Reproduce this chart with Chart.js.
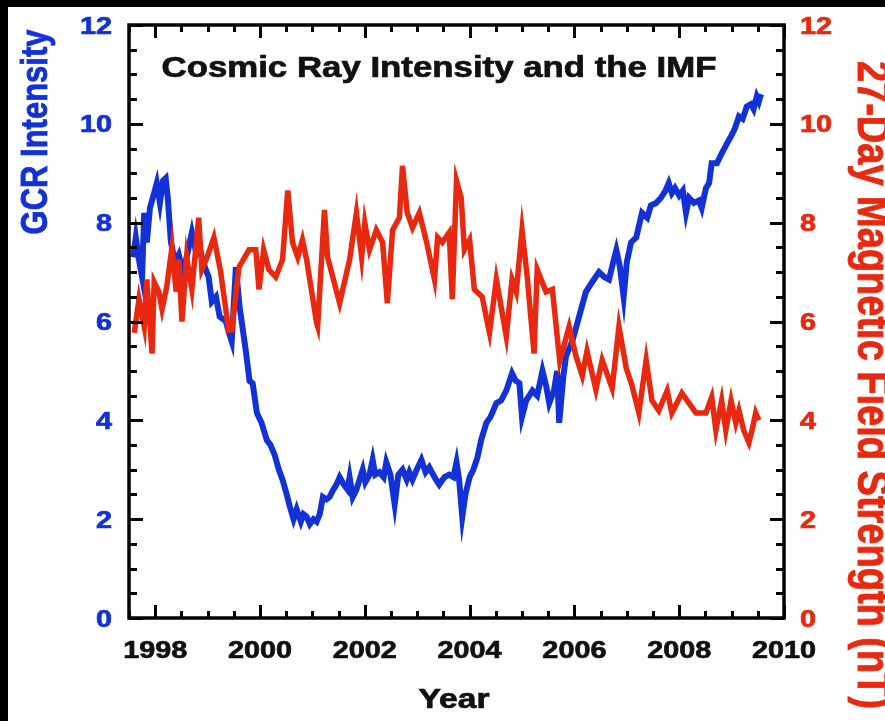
<!DOCTYPE html>
<html>
<head>
<meta charset="utf-8">
<title>Cosmic Ray Intensity and the IMF</title>
<script src="https://cdn.jsdelivr.net/npm/chart.js@4.4.1/dist/chart.umd.min.js"></script>
<style>
  html, body { margin: 0; padding: 0; background: #000; }
  #wrap { position: relative; width: 885px; height: 721px; }
</style>
</head>
<body>
<div id="wrap"><canvas id="cosmicChart" width="885" height="721"></canvas></div>
<script>
// galactic cosmic ray intensity (left axis)
const gcrYears = [
  1997.58, 1997.63, 1997.69, 1997.75, 1997.79, 1997.84, 1997.90, 1997.98, 1998.03, 1998.09,
  1998.15, 1998.20, 1998.24, 1998.30, 1998.38, 1998.45, 1998.53, 1998.60, 1998.70, 1998.78,
  1998.83, 1998.91, 1999.02, 1999.08, 1999.16, 1999.23, 1999.35, 1999.40, 1999.46, 1999.54,
  1999.61, 1999.73, 1999.80, 1999.86, 1999.94, 2000.03, 2000.13, 2000.20, 2000.28, 2000.36,
  2000.43, 2000.51, 2000.57, 2000.64, 2000.70, 2000.78, 2000.83, 2000.89, 2000.95, 2001.02,
  2001.08, 2001.14, 2001.20, 2001.27, 2001.33, 2001.40, 2001.46, 2001.52, 2001.60, 2001.67,
  2001.71, 2001.77, 2001.84, 2001.90, 2001.96, 2002.01, 2002.09, 2002.15, 2002.20, 2002.28,
  2002.36, 2002.41, 2002.49, 2002.57, 2002.64, 2002.72, 2002.80, 2002.85, 2002.91, 2002.99,
  2003.08, 2003.16, 2003.23, 2003.33, 2003.42, 2003.52, 2003.61, 2003.69, 2003.75, 2003.80,
  2003.86, 2003.92, 2004.00, 2004.07, 2004.15, 2004.22, 2004.32, 2004.40, 2004.51, 2004.60,
  2004.70, 2004.81, 2004.88, 2004.95, 2005.00, 2005.08, 2005.20, 2005.29, 2005.39, 2005.46,
  2005.52, 2005.61, 2005.67, 2005.71, 2005.79, 2005.84, 2005.96, 2006.09, 2006.22, 2006.34,
  2006.47, 2006.57, 2006.66, 2006.74, 2006.80, 2006.87, 2006.94, 2007.00, 2007.08, 2007.18,
  2007.29, 2007.39, 2007.46, 2007.56, 2007.65, 2007.74, 2007.80, 2007.86, 2007.92, 2008.00,
  2008.07, 2008.13, 2008.19, 2008.28, 2008.38, 2008.43, 2008.51, 2008.57, 2008.62, 2008.72,
  2008.81, 2008.91, 2008.99, 2009.06, 2009.14, 2009.21, 2009.29, 2009.37, 2009.42, 2009.48,
  2009.52, 2009.56
]
const gcrValues = [
  7.3, 7.7, 7.25, 6.9, 8.2, 7.6, 8.3, 8.6, 8.8, 8.4,
  8.85, 8.9, 8.5, 7.6, 7.2, 7.35, 7.0, 7.3, 7.8, 7.4,
  7.6, 7.2, 6.9, 6.4, 6.5, 6.1, 6.0, 5.8, 5.6, 7.1,
  6.3, 5.4, 4.8, 4.75, 4.15, 3.95, 3.6, 3.5, 3.3, 3.0,
  2.8, 2.5, 2.25, 2.0, 2.2, 1.95, 2.1, 2.05, 1.9, 2.0,
  1.95, 2.1, 2.45, 2.4, 2.45, 2.6, 2.7, 2.85, 2.7, 2.6,
  2.85, 2.45, 2.6, 2.8, 3.0, 2.75, 2.9, 3.2, 2.9, 2.95,
  2.85, 3.15, 2.9, 2.3, 2.9, 3.0, 2.8, 2.95, 2.8, 3.0,
  3.2, 2.95, 3.05, 2.85, 2.7, 2.85, 2.9, 2.85, 3.15, 2.8,
  2.05, 2.5, 2.85, 3.0, 3.25, 3.6, 3.95, 4.07, 4.35, 4.4,
  4.6, 4.95, 4.8, 4.75, 4.07, 4.4, 4.6, 4.5, 5.0, 4.7,
  4.35, 4.6, 5.0, 3.95, 4.9, 5.3, 5.6, 6.1, 6.6, 6.8,
  7.0, 6.9, 6.85, 7.2, 7.45, 7.1, 6.5, 7.2, 7.6, 7.7,
  8.2, 8.1, 8.35, 8.4, 8.5, 8.65, 8.8, 8.6, 8.7, 8.55,
  8.65, 8.2, 8.5, 8.4, 8.45, 8.3, 8.7, 8.8, 9.2, 9.2,
  9.4, 9.6, 9.75, 9.9, 10.15, 10.1, 10.35, 10.4, 10.3, 10.55,
  10.45, 10.6
]

// 27-day interplanetary magnetic field strength, nT (right axis)
const imfYears = [
  1997.60, 1997.69, 1997.79, 1997.84, 1997.94, 1997.98, 1998.07, 1998.13, 1998.22, 1998.32,
  1998.40, 1998.45, 1998.51, 1998.60, 1998.70, 1998.83, 1998.89, 1998.99, 1999.12, 1999.25,
  1999.40, 1999.46, 1999.60, 1999.79, 1999.92, 1999.98, 2000.07, 2000.17, 2000.30, 2000.43,
  2000.53, 2000.62, 2000.72, 2000.81, 2000.89, 2001.08, 2001.10, 2001.23, 2001.29, 2001.52,
  2001.71, 2001.84, 2001.94, 2002.00, 2002.09, 2002.22, 2002.34, 2002.43, 2002.53, 2002.66,
  2002.72, 2002.81, 2002.91, 2003.04, 2003.18, 2003.33, 2003.39, 2003.48, 2003.61, 2003.67,
  2003.75, 2003.84, 2003.90, 2004.00, 2004.09, 2004.24, 2004.34, 2004.38, 2004.51, 2004.70,
  2004.81, 2004.89, 2005.00, 2005.10, 2005.23, 2005.29, 2005.46, 2005.58, 2005.72, 2005.90,
  2006.03, 2006.15, 2006.24, 2006.41, 2006.53, 2006.72, 2006.85, 2006.99, 2007.10, 2007.23,
  2007.37, 2007.48, 2007.61, 2007.77, 2007.86, 2008.05, 2008.32, 2008.51, 2008.62, 2008.70,
  2008.81, 2008.89, 2008.99, 2009.08, 2009.14, 2009.23, 2009.33, 2009.39, 2009.46, 2009.52
]
const imfValues = [
  5.77, 6.45, 5.9, 6.85, 5.35, 6.8, 6.6, 6.25, 6.7, 7.5,
  6.6, 7.25, 6.0, 7.3, 6.65, 8.1, 7.05, 7.3, 7.7, 7.0,
  5.83, 5.83, 7.1, 7.45, 7.45, 6.65, 7.45, 7.05, 6.9, 7.25,
  8.65, 7.6, 7.3, 7.65, 7.25, 5.97, 5.9, 8.26, 7.3, 6.37,
  7.25, 8.2, 7.3, 8.0, 7.45, 7.85, 7.6, 6.37, 7.85, 8.1,
  9.15, 8.2, 7.9, 8.2, 7.6, 6.85, 7.7, 7.6, 7.8, 6.45,
  8.85, 8.5, 7.45, 7.65, 6.65, 6.5, 5.97, 5.77, 6.85, 5.7,
  6.85, 6.6, 7.85, 6.9, 5.35, 7.05, 6.6, 6.65, 5.2, 5.9,
  5.3, 4.9, 5.4, 4.62, 5.22, 4.65, 5.9, 5.05, 4.7, 4.15,
  5.22, 4.4, 4.2, 4.6, 4.15, 4.55, 4.15, 4.15, 4.47, 3.8,
  4.4, 3.8, 4.4, 3.95, 4.2, 3.8, 3.55, 3.8, 4.15, 4.0
]

const xTicks = [1998, 2000, 2002, 2004, 2006, 2008, 2010]
const yTicks = [0, 2, 4, 6, 8, 10, 12]
const yRightTicks = [0, 2, 4, 6, 8, 10, 12]

const BLUE = '#1232d8'
const RED = '#e8290f'
const FONT = '"Liberation Sans", Arial, Helvetica, sans-serif'
const STRETCH = 1.2  // the original lettering is a bit wide

function drawText(ctx, str, x, y, size, color, align, angle) {
   ctx.save()
   ctx.translate(x, y)
   ctx.scale(STRETCH, 1)
   if (angle) ctx.rotate(angle)
   ctx.font = 'bold ' + size + 'px ' + FONT
   ctx.fillStyle = color
   ctx.strokeStyle = color
   ctx.lineWidth = 0.7
   ctx.textAlign = align
   ctx.textBaseline = 'alphabetic'
   ctx.fillText(str, 0, 0)
   ctx.strokeText(str, 0, 0)
   ctx.restore()
}

const framePlugin = {
   id: 'frame',
   beforeDraw(chart) {
      const ctx = chart.ctx
      ctx.save()
      ctx.fillStyle = '#000'
      ctx.fillRect(0, 0, chart.width, chart.height)
      ctx.fillStyle = '#fff'
      ctx.fillRect(8, 7, chart.width - 8, chart.height - 7)
      ctx.restore()
   },
   afterDraw(chart) {
      const ctx = chart.ctx
      const a = chart.chartArea
      const x = chart.scales.x
      const y = chart.scales.y
      const yR = chart.scales.yR
      ctx.save()
      ctx.strokeStyle = '#000'
      ctx.lineWidth = 3
      ctx.lineCap = 'butt'

      // inward ticks, every half unit, long ones on the labelled values
      ctx.beginPath()
      for (let v = 1997.5; v <= 2010.001; v += 0.5) {
         const px = Math.round(x.getPixelForValue(v)) + 0.5
         const len = xTicks.includes(v) ? 13 : 7
         ctx.moveTo(px, a.bottom); ctx.lineTo(px, a.bottom - len)
         ctx.moveTo(px, a.top); ctx.lineTo(px, a.top + len)
      }
      for (let v = 0; v <= 12.001; v += 0.5) {
         const len = yTicks.includes(v) ? 14 : 8
         const py = Math.round(y.getPixelForValue(v)) + 0.5
         ctx.moveTo(a.left, py); ctx.lineTo(a.left + len, py)
         const pr = Math.round(yR.getPixelForValue(v)) + 0.5
         ctx.moveTo(a.right, pr); ctx.lineTo(a.right - len, pr)
      }
      ctx.stroke()

      ctx.lineWidth = 3.5
      ctx.strokeRect(a.left, a.top, a.right - a.left, a.bottom - a.top)
      ctx.restore()

      // tick labels
      xTicks.forEach(v => drawText(ctx, String(v), x.getPixelForValue(v), 658, 24, '#111', 'center'))
      yTicks.forEach(v => drawText(ctx, String(v), a.left - 17, y.getPixelForValue(v) + 8.5, 24, BLUE, 'right'))
      yRightTicks.forEach(v => drawText(ctx, String(v), a.right + 16, yR.getPixelForValue(v) + 8.5, 24, RED, 'left'))

      // titles
      drawText(ctx, 'Cosmic Ray Intensity and the IMF', 439, 77, 29, '#111', 'center')
      drawText(ctx, 'Year', 454, 708, 28, '#111', 'center')
      drawText(ctx, 'GCR Intensity', 47, 132, 31, BLUE, 'center', -Math.PI / 2)
      drawText(ctx, '27-Day Magnetic Field Strength (nT)', 858, 385, 38, RED, 'center', Math.PI / 2)
   }
}

const ctx = document.getElementById('cosmicChart').getContext('2d')
const cosmicChart = new Chart(ctx, {
   type: 'line',
   data: {
      datasets: [
         {
            label: 'IMF',
            data: imfYears.map((yr, i) => ({ x: yr, y: imfValues[i] })),
            yAxisID: 'yR',
            borderColor: RED,
            borderWidth: 5.5,
            pointRadius: 0,
            tension: 0,
            fill: false
         },
         {
            label: 'GCR',
            data: gcrYears.map((yr, i) => ({ x: yr, y: gcrValues[i] })),
            yAxisID: 'y',
            borderColor: BLUE,
            borderWidth: 6,
            pointRadius: 0,
            tension: 0,
            fill: false
         }
      ]
   },
   options: {
      responsive: false,
      animation: false,
      devicePixelRatio: 1,
      layout: { padding: { top: 25, left: 0, right: 0, bottom: 0 } },
      plugins: {
         legend: { display: false },
         tooltip: { enabled: false },
         title: { display: false }
      },
      events: [],
      scales: {
         x: {
            type: 'linear',
            min: 1997.5,
            max: 2010,
            grid: { display: false },
            border: { display: false },
            ticks: { display: false },
            afterFit: s => { s.height = 103 }
         },
         y: {
            position: 'left',
            min: 0,
            max: 12,
            grid: { display: false },
            border: { display: false },
            ticks: { display: false },
            afterFit: s => { s.width = 129 }
         },
         yR: {
            position: 'right',
            min: 0,
            max: 12,
            grid: { display: false },
            border: { display: false },
            ticks: { display: false },
            afterFit: s => { s.width = 101 }
         }
      }
   },
   plugins: [framePlugin]
})
</script>
</body>
</html>
